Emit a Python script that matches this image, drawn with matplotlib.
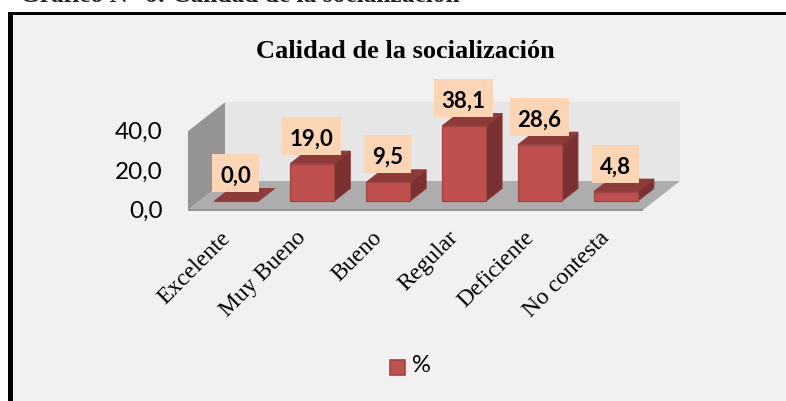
import matplotlib
matplotlib.use('Agg')
import matplotlib.pyplot as plt
from matplotlib.patches import Polygon, Rectangle
from matplotlib.transforms import Affine2D

categories = ['Excelente', 'Muy Bueno', 'Bueno', 'Regular', 'Deficiente', 'No contesta']
values = [0.0, 19.0, 9.5, 38.1, 28.6, 4.8]
yticks = [0, 20, 40]
series_name = '%'
title = 'Calidad de la socialización'
header = 'Gráfico N° 6: Calidad de la socialización'


def comma(v):
    return f'{v:.1f}'.replace('.', ',')


W, H = 786, 401
fig = plt.figure(figsize=(W / 100, H / 100), dpi=100, facecolor='white')
ax = fig.add_axes([0, 0, 1, 1], zorder=2)
ax.axis('off')

# x: one unit per category, y: percent (76 px per category, 1.97 px per percent)
ax.set_xlim(-236.4 / 75.9, (W - 236.4) / 75.9)
ax.set_ylim((201 - H) / 1.97, 201 / 1.97)

# pixel transform for the layout things (y from the top)
px = Affine2D().scale(1, -1).translate(0, H)

# panel and the black border (no border on the right)
fig.add_artist(Rectangle((8, 12), W - 8, H - 12, transform=px, fc='#f1f1f1', ec='none'))
fig.add_artist(Rectangle((8, 12), W - 8, 3, transform=px, fc='black', ec='none'))
fig.add_artist(Rectangle((8, 12), 5, H - 12, transform=px, fc='black', ec='none'))

# box of the 3d chart
x_front = (-0.638, 5.357)
x_back = (-0.150, 5.845)
y_front = -4.57
y_back = 10.15
y_max = max(yticks)

ax.add_patch(Polygon([(x_back[0], y_back), (x_back[1], y_back), (x_back[1], y_back + y_max),
                      (x_back[0], y_back + y_max)], fc='#e6e6e6', ec='none', zorder=1))
ax.add_patch(Polygon([(x_front[0], y_front), (x_back[0], y_back), (x_back[0], y_back + y_max),
                      (x_front[0], y_front + y_max)], fc='#949494', ec='none', zorder=1))
ax.add_patch(Polygon([(x_front[0], y_front), (x_front[1], y_front), (x_back[1], y_back),
                      (x_back[0], y_back)], fc='#adadad', ec='none', zorder=1))
ax.plot(x_front, [y_front, y_front], color='#939393', lw=1.4, zorder=2, solid_capstyle='butt')

# bars
bar_w = 0.58
dx = 16 / 75.9
dy = 12.5 / 1.97
for i, v in enumerate(values):
    l, r = i - bar_w / 2, i + bar_w / 2
    ax.add_patch(Polygon([(r, 0), (r + dx, dy), (r + dx, v + dy), (r, v)],
                         fc='#7b3130', ec='#8a3a38', lw=0.6, zorder=3))
    ax.add_patch(Polygon([(l, v), (r, v), (r + dx, v + dy), (l + dx, v + dy)],
                         fc='#8e3a38', ec='#8e3a38', lw=0.6, zorder=3))
ax.bar(range(len(values)), values, width=bar_w, color='#c0504d', edgecolor='#a04442',
       linewidth=0.9, zorder=4)

# value labels
for i, v in enumerate(values):
    s = comma(v)
    box_w = (59 if len(s) > 3 else 47) / 75.9
    box_h = 38 / 1.97
    yc = v + 14.2
    ax.add_patch(Rectangle((i - 0.01 - box_w / 2, yc - box_h / 2), box_w, box_h,
                           fc='#fcd5b5', ec='none', zorder=5))
    ax.text(i - 0.01, yc - 1.6, s, ha='center', va='center', fontsize=16, fontweight='bold',
            family='Lato', color='black', zorder=6)

# y tick labels sit on the front edge of the side wall
for t in yticks:
    ax.text(x_front[0] - 0.33, y_front + t - 0.8, comma(t), ha='right', va='center',
            fontsize=17.5, family='Lato', color='black')

# category labels
for i, c in enumerate(categories):
    ax.text(i - 0.22, -13.4, c, rotation=45, rotation_mode='anchor', ha='right', va='top',
            fontsize=17, family='Liberation Serif', color='black')

# titles
ax.text(405, 51.5, title, transform=px, ha='center', va='center', fontsize=19,
        fontweight='bold', family='Liberation Serif', color='black')
ax.text(20, 2.5, header, transform=px, ha='left', va='baseline', fontsize=18.3,
        fontweight='bold', family='Liberation Serif', color='#222222')

# legend
ax.add_patch(Rectangle((389.5, 359.5), 15, 15, transform=px, fc='#c0504d', ec='#a04442', lw=1.2))
ax.text(412, 366, series_name, transform=px, ha='left', va='center', fontsize=17,
        family='Lato', color='black')

fig.savefig('out.png', dpi=100, facecolor='white')
